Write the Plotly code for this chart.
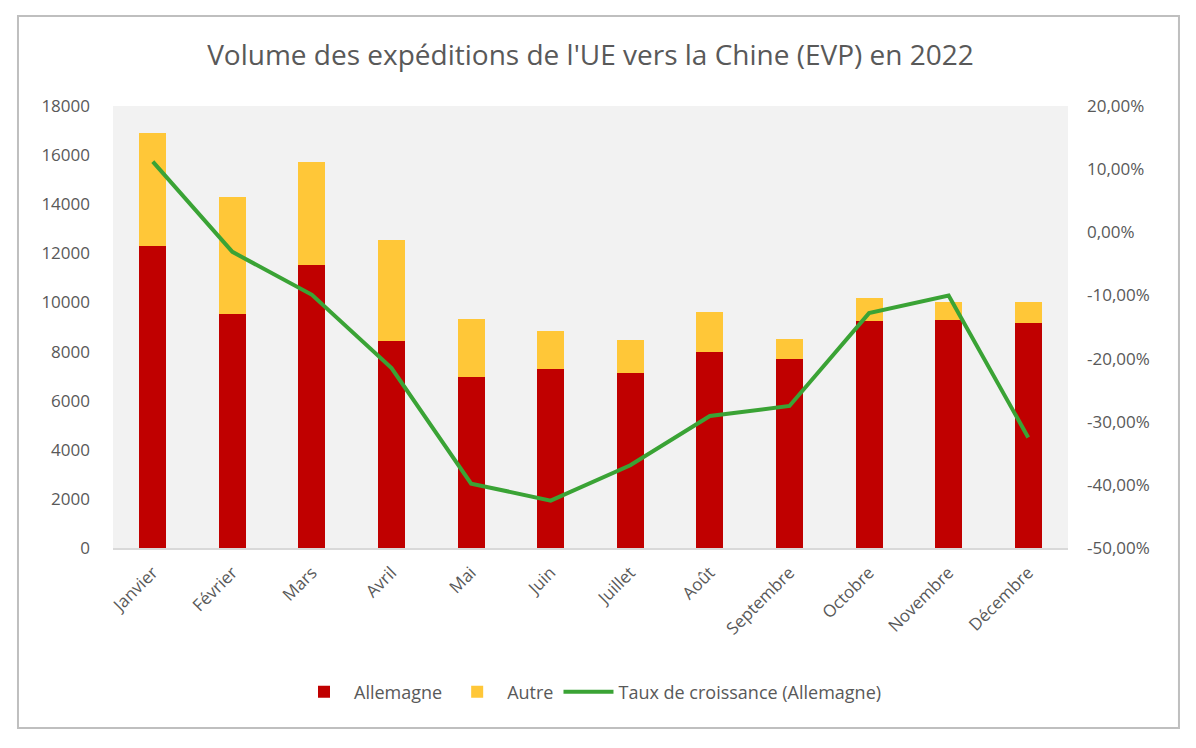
import plotly.graph_objects as go

mois = ["Janvier", "Février", "Mars", "Avril", "Mai", "Juin", "Juillet",
        "Août", "Septembre", "Octobre", "Novembre", "Décembre"]
allemagne = [12310, 9540, 11535, 8430, 6960, 7290, 7125, 7990, 7700, 9255, 9280, 9175]
total = [16910, 14290, 15730, 12540, 9325, 8835, 8470, 9610, 8510, 10180, 10020, 10020]
autre = [t - a for t, a in zip(total, allemagne)]
croissance = [11.2, -3.1, -9.9, -21.5, -39.8, -42.5, -36.9, -29.1, -27.5, -12.8, -10.0, -32.5]

left_ticks = [0, 2000, 4000, 6000, 8000, 10000, 12000, 14000, 16000, 18000]
left_labels = ["0", "2000", "4000", "6000", "8000", "10000", "12000", "14000", "16000", "18000"]
right_ticks = [20, 10, 0, -10, -20, -30, -40, -50]
right_labels = ["20,00%", "10,00%", "0,00%", "-10,00%", "-20,00%", "-30,00%", "-40,00%", "-50,00%"]

FONT = "Open Sans"
GREY = "#595959"

fig = go.Figure()
fig.add_trace(go.Bar(x=mois, y=allemagne, name="Allemagne", marker_color="#C00000",
                     marker_line_width=0))
fig.add_trace(go.Bar(x=mois, y=autre, name="Autre", marker_color="#FFC738",
                     marker_line_width=0))
fig.add_trace(go.Scatter(x=mois, y=croissance, name="Taux de croissance (Allemagne)",
                         mode="lines", line=dict(color="#3AA335", width=4),
                         yaxis="y2"))

fig.update_layout(
    width=1196, height=748,
    barmode="stack", bargap=0.66,
    paper_bgcolor="white", plot_bgcolor="#F2F2F2",
    font=dict(family=FONT, color=GREY, size=17),
    margin=dict(l=113, r=128, t=106, b=200),
    title=dict(text="Volume des expéditions de l'UE vers la Chine (EVP) en 2022",
               x=0.5, xref="paper", xanchor="center", y=0.926, yanchor="middle",
               font=dict(family=FONT, size=28, color=GREY)),
    xaxis=dict(tickangle=-45, showgrid=False, showline=True, linecolor="#D9D9D9",
               linewidth=2, ticks="", ticklabelstandoff=6,
               tickfont=dict(size=17, color=GREY)),
    yaxis=dict(range=[0, 18000], tickvals=left_ticks, ticktext=left_labels,
               showgrid=False, zeroline=False, ticks="", ticklabelstandoff=22,
               tickfont=dict(size=17, color=GREY)),
    yaxis2=dict(range=[-50, 20], tickvals=right_ticks, ticktext=right_labels,
                overlaying="y", side="right", showgrid=False, zeroline=False,
                ticks="", ticklabelstandoff=18, tickfont=dict(size=17, color=GREY)),
    legend=dict(orientation="h", x=0.5, xanchor="center", y=-0.326, yanchor="middle",
                font=dict(size=18, color=GREY), traceorder="normal",
                itemwidth=50, tracegroupgap=40),
    showlegend=True,
)

fig.add_shape(type="rect", xref="paper", yref="paper",
              x0=-0.0995, x1=1.1162, y0=-0.4072, y1=1.2036,
              line=dict(color="#BFBFBF", width=2), fillcolor="rgba(0,0,0,0)",
              layer="above")

fig.write_html("out.html", config={"displayModeBar": False},
               post_script="document.body.style.margin='0';document.body.style.padding='0';")
